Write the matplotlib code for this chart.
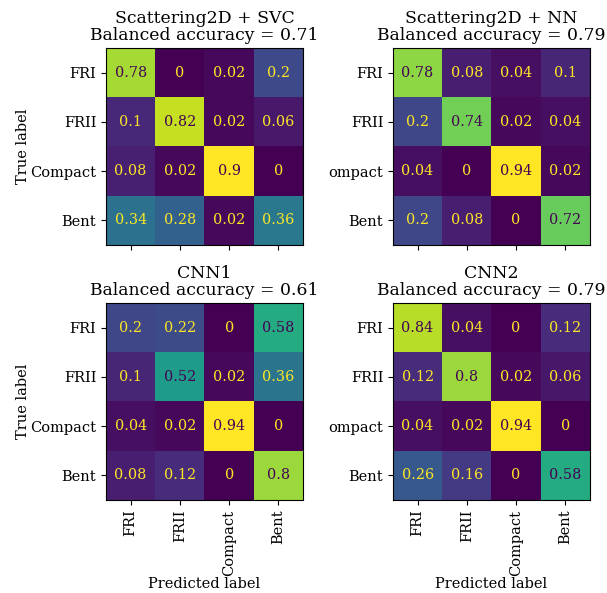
import numpy as np
import matplotlib
matplotlib.use("Agg")
import matplotlib.pyplot as plt

plt.rcParams['font.family'] = 'DejaVu Serif'

classes = ["FRI", "FRII", "Compact", "Bent"]
# the "C" of the right column's "Compact" is cut off in the original figure
right_ylabels = ["FRI", "FRII", "ompact", "Bent"]

models = ["Scattering2D + SVC", "Scattering2D + NN", "CNN1", "CNN2"]
balanced_acc = [0.71, 0.79, 0.61, 0.79]

cm_svc = np.array([[0.78, 0, 0.02, 0.2],
                   [0.1, 0.82, 0.02, 0.06],
                   [0.08, 0.02, 0.9, 0],
                   [0.34, 0.28, 0.02, 0.36]])
cm_nn = np.array([[0.78, 0.08, 0.04, 0.1],
                  [0.2, 0.74, 0.02, 0.04],
                  [0.04, 0, 0.94, 0.02],
                  [0.2, 0.08, 0, 0.72]])
cm_cnn1 = np.array([[0.2, 0.22, 0, 0.58],
                    [0.1, 0.52, 0.02, 0.36],
                    [0.04, 0.02, 0.94, 0],
                    [0.08, 0.12, 0, 0.8]])
cm_cnn2 = np.array([[0.84, 0.04, 0, 0.12],
                    [0.12, 0.8, 0.02, 0.06],
                    [0.04, 0.02, 0.94, 0],
                    [0.26, 0.16, 0, 0.58]])
matrices = [cm_svc, cm_nn, cm_cnn1, cm_cnn2]

W, H = 607, 593
fig = plt.figure(figsize=(W / 100, H / 100), dpi=100)

# image boxes in pixels: left, top, size
boxes = [(106, 48), (393, 48), (106, 303), (393, 303)]
size = 197
cmap = plt.get_cmap('viridis')

for i, (cm, name, acc) in enumerate(zip(matrices, models, balanced_acc)):
    x0, y0 = boxes[i]
    ax = fig.add_axes([x0 / W, 1 - (y0 + size) / H, size / W, size / H])
    ax.imshow(cm, cmap=cmap, interpolation='nearest')
    thresh = (cm.max() + cm.min()) / 2
    for r in range(4):
        for c in range(4):
            col = cmap(0.0) if cm[r, c] >= thresh else cmap(1.0)
            ax.text(c, r, f"{cm[r, c]:.2g}", ha='center', va='center',
                    color=col, fontsize=10.4)
    ax.set_title(f"{name}\nBalanced accuracy = {acc}", fontsize=12.4,
                 linespacing=1.0)
    ax.set_xticks(range(4))
    ax.set_yticks(range(4))
    ax.tick_params(labelsize=10.5)
    if i % 2 == 0:
        ax.set_yticklabels(classes)
        ax.set_ylabel("True label", fontsize=10.5, labelpad=0.5)
    else:
        ax.set_yticklabels(right_ylabels)
    if i >= 2:
        ax.set_xticklabels(classes, rotation=90)
        ax.set_xlabel("Predicted label", fontsize=10.5, labelpad=1)
    else:
        ax.set_xticklabels([])

fig.savefig("out.png", dpi=100)
